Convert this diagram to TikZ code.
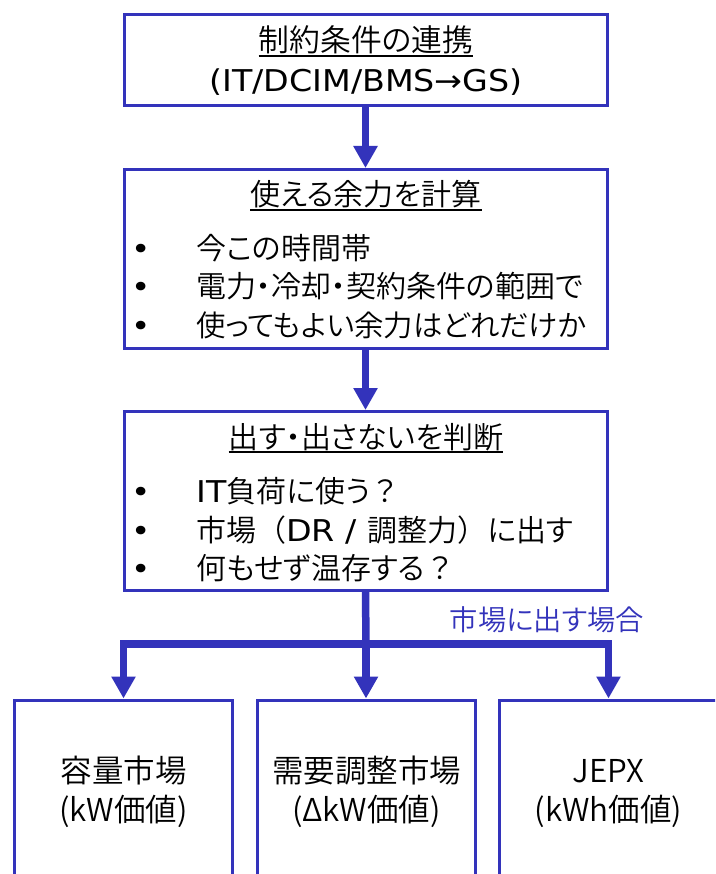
\documentclass[tikz,border=0pt]{standalone}
\usepackage{fontspec}
\setmainfont{Noto Sans CJK JP}[UprightFont={* DemiLight},RawFeature=+palt]
\newfontfamily\jpfix{Noto Sans CJK JP}[UprightFont={* DemiLight}]
\newfontfamily\latf[FakeStretch=1.11]{DejaVu Sans}
\newcommand\lt[1]{{\latf #1}}
\newcommand\jf[1]{{\jpfix #1}}
\usetikzlibrary{arrows.meta}
\definecolor{myblue}{RGB}{51,51,187}
\begin{document}
\begin{tikzpicture}[x=1pt,y=-1pt,
  box/.style={draw=myblue,line width=3pt,rectangle,inner sep=0pt},
  conn/.style={draw=myblue,line width=7.5pt},
  tip/.style={-{Triangle[width=23pt,length=22pt]}},
  txt/.style={inner sep=0pt,anchor=base,font=\fontsize{30}{36}\selectfont},
  btxt/.style={inner sep=0pt,anchor=base west,font=\fontsize{30}{36}\selectfont},
  bul/.style={inner sep=0pt,anchor=base,font=\fontsize{29.5}{36}\selectfont},
  mtxt/.style={inner sep=0pt,anchor=base,font=\fontsize{31.5}{36}\selectfont},
  uline/.style={draw=black,line width=1.6pt}]
\useasboundingbox (0,0) rectangle (715,874);
\clip (0,0) rectangle (715,874);
\fill[white] (0,0) rectangle (715,874);

% boxes
\node[box,minimum width=483pt,minimum height=91pt] (b1) at (365.5,60) {};
\node[box,minimum width=483pt,minimum height=179pt] (b2) at (365.5,259) {};
\node[box,minimum width=483pt,minimum height=179pt] (b3) at (365.5,501) {};
\node[box,minimum width=218pt,minimum height=260pt,anchor=north] (bA) at (123.5,698.5) {};
\node[box,minimum width=218pt,minimum height=260pt,anchor=north] (bB) at (366.5,698.5) {};
\node[box,minimum width=218pt,minimum height=260pt,anchor=north] (bC) at (608.5,698.5) {};

% box 1
\node[txt,font=\fontsize{30.8}{36}\selectfont] (t1a) at (366,52) {制約条件の連携};
\draw[uline] ([yshift=-4pt]t1a.base west) -- ([yshift=-4pt]t1a.base east);
\node[txt] (t1b) at (366,92) {\lt{(IT/DCIM/BMS→GS)}};

% box 2
\node[txt] (t2) at (366,206) {使える余力を計算};
\draw[uline] ([yshift=-4pt]t2.base west) -- ([yshift=-4pt]t2.base east);
\node[bul] (p21) at (141,260) {\lt{•}};
\node[bul] (p22) at (141,298) {\lt{•}};
\node[bul] (p23) at (141,336) {\lt{•}};
\node[btxt] (s21) at (196,260) {今この時間帯};
\node[btxt] (s22) at (196,298) {電力・冷却・契約条件の範囲で};
\node[btxt,font=\fontsize{29.4}{36}\selectfont] (s23) at (196,336) {使ってもよい余力はどれだけか};

% box 3
\node[txt] (t3) at (366,448) {出す・出さないを判断};
\draw[uline] ([yshift=-4pt]t3.base west) -- ([yshift=-4pt]t3.base east);
\node[bul] (p31) at (141,502) {\lt{•}};
\node[bul] (p32) at (141,541) {\lt{•}};
\node[bul] (p33) at (141,579) {\lt{•}};
\node[btxt] (s31) at (196,502) {\lt{IT}負荷に使う\jf{？}};
\node[btxt] (s32) at (196,541) {市場\jf{（}\lt{DR / }調整力\jf{）}に出す};
\node[btxt] (s33) at (196,579) {何もせず温存する\jf{？}};

% bottom texts
\node[mtxt] (mA1) at (123.5,782) {容量市場};
\node[mtxt] (mA2) at (123.5,821) {(kW価値)};
\node[mtxt] (mB1) at (366.5,782) {需要調整市場};
\node[mtxt] (mB2) at (366.5,821) {(ΔkW価値)};
\node[mtxt] (mC1) at (608.5,782) {JEPX};
\node[mtxt] (mC2) at (608.5,821) {(kWh価値)};

% label
\node[inner sep=0pt,anchor=base,text=myblue,font=\fontsize{28.3}{32}\selectfont] (lab) at (547,630) {市場に出す場合};

% connectors
\coordinate (j) at (366,644);
\draw[conn,tip] (b1.south) -- (b2.north);
\draw[conn,tip] (b2.south) -- (b3.north);
\draw[conn] (b3.south) -- (j);
\draw[conn,tip] (j) -- (j |- bB.north);
\draw[conn,tip] (j) -| (bA.north);
\draw[conn,tip] (j) -| (bC.north);
\end{tikzpicture}
\end{document}
